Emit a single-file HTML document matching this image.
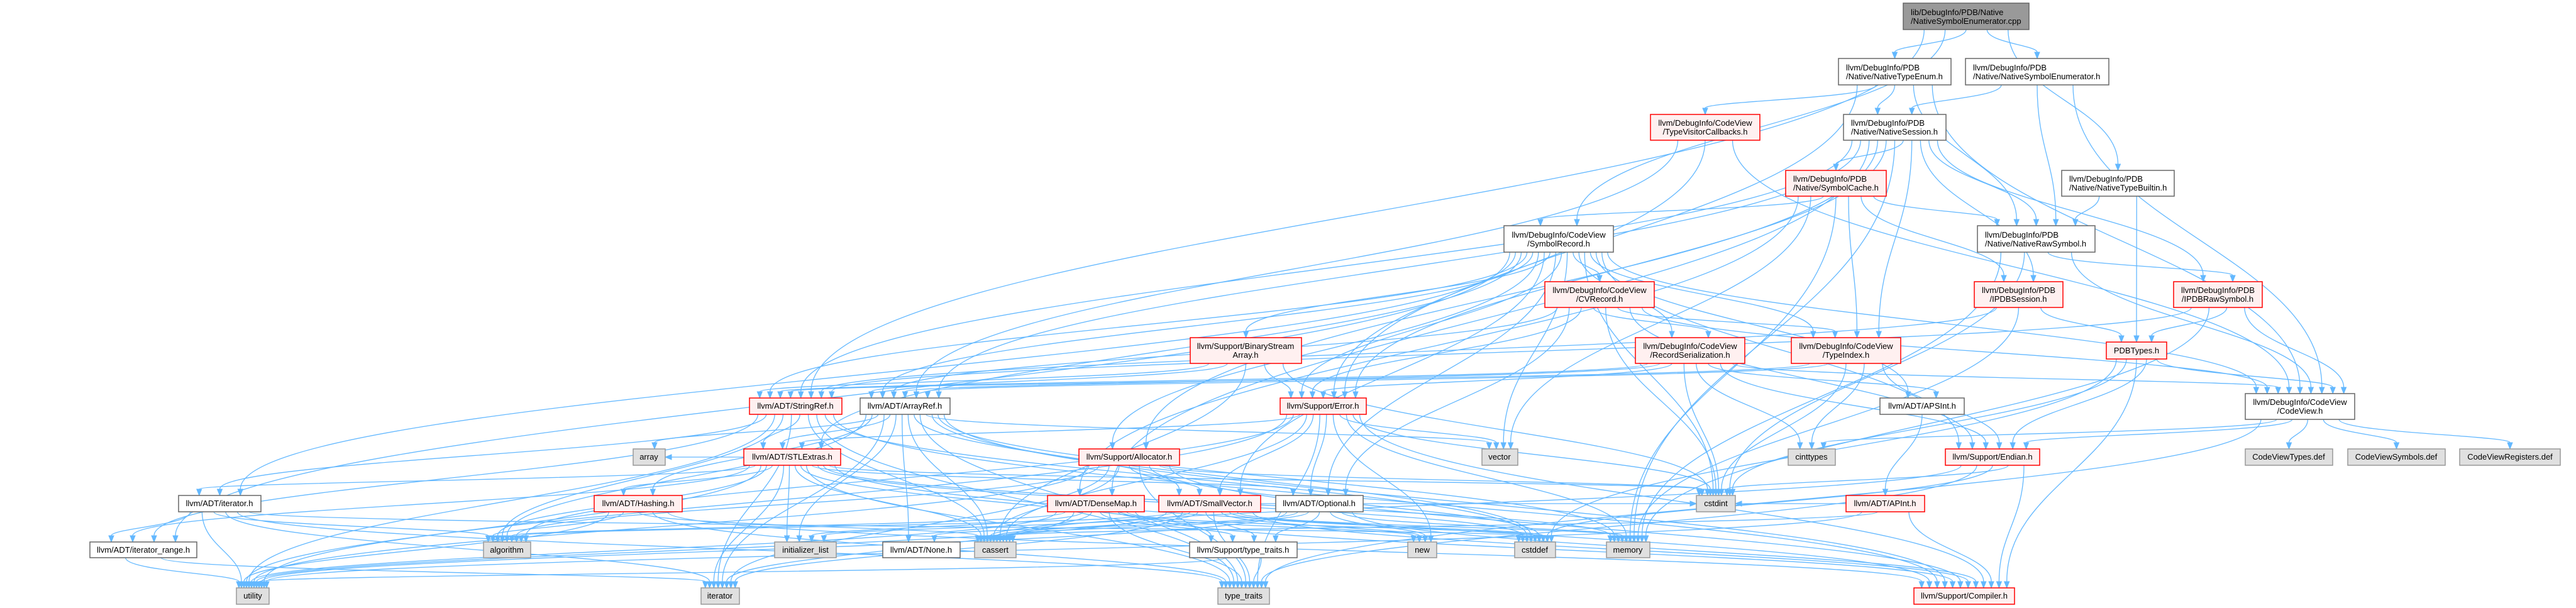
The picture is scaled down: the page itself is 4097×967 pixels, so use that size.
<!DOCTYPE html>
<html><head><meta charset="utf-8"><style>
html,body{margin:0;padding:0;background:#fff;}
svg{display:block}
text{font-family:"Liberation Sans",Arial,sans-serif;font-size:13px;fill:#000}
.w rect{fill:#fff;stroke:#666;stroke-width:1.5}
.r rect{fill:#FFF0F0;stroke:#F00;stroke-width:1.5}
.g rect{fill:#E0E0E0;stroke:#999;stroke-width:1.5}
.m rect{fill:#999;stroke:#666;stroke-width:1.5}
.e path{fill:none;stroke:#63B8FF;stroke-width:1.3}
.e polygon{fill:#63B8FF;stroke:#63B8FF}
</style></head><body>
<svg id="s" width="4097" height="967" viewBox="0 0 4097 967" xmlns="http://www.w3.org/2000/svg">
<g id="edges" class="e"></g>
<g id="nodes">
<g class="m"><rect id="r_cpp" x="3027" y="5" width="200" height="42"/><text x="3039" y="24">lib/DebugInfo/PDB/Native</text><text x="3039" y="38">/NativeSymbolEnumerator.cpp</text></g>
<g class="w"><rect id="r_nte" x="2924" y="93" width="179" height="42"/><text x="2936" y="112">llvm/DebugInfo/PDB</text><text x="2936" y="126">/Native/NativeTypeEnum.h</text></g>
<g class="w"><rect id="r_nse" x="3126" y="93" width="228" height="42"/><text x="3138" y="112">llvm/DebugInfo/PDB</text><text x="3138" y="126">/Native/NativeSymbolEnumerator.h</text></g>
<g class="r"><rect id="r_tvc" x="2625" y="182" width="174" height="41"/><text x="2712" y="200" text-anchor="middle">llvm/DebugInfo/CodeView</text><text x="2712" y="214" text-anchor="middle">/TypeVisitorCallbacks.h</text></g>
<g class="w"><rect id="r_ns" x="2932" y="182" width="163" height="41"/><text x="2944" y="200">llvm/DebugInfo/PDB</text><text x="2944" y="214">/Native/NativeSession.h</text></g>
<g class="r"><rect id="r_sc" x="2840" y="271" width="160" height="41"/><text x="2852" y="289">llvm/DebugInfo/PDB</text><text x="2852" y="303">/Native/SymbolCache.h</text></g>
<g class="w"><rect id="r_ntb" x="3279" y="271" width="179" height="41"/><text x="3291" y="289">llvm/DebugInfo/PDB</text><text x="3291" y="303">/Native/NativeTypeBuiltin.h</text></g>
<g class="w"><rect id="r_nrs" x="3145" y="359" width="187" height="42"/><text x="3157" y="378">llvm/DebugInfo/PDB</text><text x="3157" y="392">/Native/NativeRawSymbol.h</text></g>
<g class="w"><rect id="r_sr" x="2392" y="359" width="174" height="42"/><text x="2479" y="378" text-anchor="middle">llvm/DebugInfo/CodeView</text><text x="2479" y="392" text-anchor="middle">/SymbolRecord.h</text></g>
<g class="r"><rect id="r_ipdbs" x="3140" y="448" width="141" height="41"/><text x="3152" y="466">llvm/DebugInfo/PDB</text><text x="3210" y="480" text-anchor="middle">/IPDBSession.h</text></g>
<g class="r"><rect id="r_ipdbr" x="3457" y="448" width="141" height="41"/><text x="3469" y="466">llvm/DebugInfo/PDB</text><text x="3527" y="480" text-anchor="middle">/IPDBRawSymbol.h</text></g>
<g class="r"><rect id="r_cvr" x="2457" y="448" width="174" height="41"/><text x="2544" y="466" text-anchor="middle">llvm/DebugInfo/CodeView</text><text x="2544" y="480" text-anchor="middle">/CVRecord.h</text></g>
<g class="r"><rect id="r_rs" x="2601" y="537" width="174" height="41"/><text x="2688" y="555" text-anchor="middle">llvm/DebugInfo/CodeView</text><text x="2688" y="569" text-anchor="middle">/RecordSerialization.h</text></g>
<g class="r"><rect id="r_ti" x="2849" y="537" width="174" height="41"/><text x="2936" y="555" text-anchor="middle">llvm/DebugInfo/CodeView</text><text x="2936" y="569" text-anchor="middle">/TypeIndex.h</text></g>
<g class="r"><rect id="r_pdbt" x="3350" y="544" width="96" height="27"/><text x="3398" y="562" text-anchor="middle">PDBTypes.h</text></g>
<g class="r"><rect id="r_bsa" x="1893" y="537" width="177" height="41"/><text x="1981" y="555" text-anchor="middle">llvm/Support/BinaryStream</text><text x="1981" y="569" text-anchor="middle">Array.h</text></g>
<g class="r"><rect id="r_sref" x="1192" y="633" width="147" height="26"/><text x="1265" y="650" text-anchor="middle">llvm/ADT/StringRef.h</text></g>
<g class="w"><rect id="r_aref" x="1368" y="633" width="143" height="26"/><text x="1439" y="650" text-anchor="middle">llvm/ADT/ArrayRef.h</text></g>
<g class="r"><rect id="r_err" x="2036" y="633" width="137" height="26"/><text x="2104" y="650" text-anchor="middle">llvm/Support/Error.h</text></g>
<g class="w"><rect id="r_apsint" x="2990" y="633" width="134" height="26"/><text x="3057" y="650" text-anchor="middle">llvm/ADT/APSInt.h</text></g>
<g class="w"><rect id="r_cv" x="3571" y="626" width="174" height="41"/><text x="3658" y="644" text-anchor="middle">llvm/DebugInfo/CodeView</text><text x="3658" y="658" text-anchor="middle">/CodeView.h</text></g>
<g class="g"><rect id="r_array" x="1007" y="714" width="51" height="26"/><text x="1032" y="731" text-anchor="middle">array</text></g>
<g class="r"><rect id="r_stl" x="1183" y="714" width="154" height="26"/><text x="1260" y="731" text-anchor="middle">llvm/ADT/STLExtras.h</text></g>
<g class="r"><rect id="r_alloc" x="1716" y="714" width="160" height="26"/><text x="1796" y="731" text-anchor="middle">llvm/Support/Allocator.h</text></g>
<g class="g"><rect id="r_vector" x="2357" y="714" width="57" height="26"/><text x="2385" y="731" text-anchor="middle">vector</text></g>
<g class="g"><rect id="r_cinttypes" x="2844" y="714" width="75" height="26"/><text x="2881" y="731" text-anchor="middle">cinttypes</text></g>
<g class="r"><rect id="r_endian" x="3094" y="714" width="150" height="26"/><text x="3169" y="731" text-anchor="middle">llvm/Support/Endian.h</text></g>
<g class="g"><rect id="r_cvtypes" x="3571" y="714" width="139" height="26"/><text x="3640" y="731" text-anchor="middle">CodeViewTypes.def</text></g>
<g class="g"><rect id="r_cvsym" x="3734" y="714" width="155" height="26"/><text x="3811" y="731" text-anchor="middle">CodeViewSymbols.def</text></g>
<g class="g"><rect id="r_cvreg" x="3912" y="714" width="160" height="26"/><text x="3992" y="731" text-anchor="middle">CodeViewRegisters.def</text></g>
<g class="w"><rect id="r_iter" x="284" y="788" width="131" height="26"/><text x="349" y="805" text-anchor="middle">llvm/ADT/iterator.h</text></g>
<g class="r"><rect id="r_hash" x="945" y="788" width="140" height="26"/><text x="1015" y="805" text-anchor="middle">llvm/ADT/Hashing.h</text></g>
<g class="r"><rect id="r_dmap" x="1666" y="788" width="154" height="26"/><text x="1743" y="805" text-anchor="middle">llvm/ADT/DenseMap.h</text></g>
<g class="r"><rect id="r_svec" x="1843" y="788" width="162" height="26"/><text x="1924" y="805" text-anchor="middle">llvm/ADT/SmallVector.h</text></g>
<g class="w"><rect id="r_opt" x="2029" y="788" width="139" height="26"/><text x="2098" y="805" text-anchor="middle">llvm/ADT/Optional.h</text></g>
<g class="g"><rect id="r_cstdint" x="2698" y="788" width="62" height="26"/><text x="2729" y="805" text-anchor="middle">cstdint</text></g>
<g class="r"><rect id="r_apint" x="2936" y="788" width="125" height="26"/><text x="2998" y="805" text-anchor="middle">llvm/ADT/APInt.h</text></g>
<g class="w"><rect id="r_itr" x="143" y="862" width="170" height="25"/><text x="228" y="879" text-anchor="middle">llvm/ADT/iterator_range.h</text></g>
<g class="g"><rect id="r_algorithm" x="769" y="862" width="75" height="25"/><text x="806" y="879" text-anchor="middle">algorithm</text></g>
<g class="g"><rect id="r_initlist" x="1232" y="862" width="98" height="25"/><text x="1281" y="879" text-anchor="middle">initializer_list</text></g>
<g class="w"><rect id="r_none" x="1404" y="862" width="123" height="25"/><text x="1465" y="879" text-anchor="middle">llvm/ADT/None.h</text></g>
<g class="g"><rect id="r_cassert" x="1550" y="862" width="66" height="25"/><text x="1583" y="879" text-anchor="middle">cassert</text></g>
<g class="w"><rect id="r_tt" x="1892" y="862" width="171" height="25"/><text x="1977" y="879" text-anchor="middle">llvm/Support/type_traits.h</text></g>
<g class="g"><rect id="r_new" x="2239" y="862" width="46" height="25"/><text x="2262" y="879" text-anchor="middle">new</text></g>
<g class="g"><rect id="r_cstddef" x="2409" y="862" width="65" height="25"/><text x="2441" y="879" text-anchor="middle">cstddef</text></g>
<g class="g"><rect id="r_memory" x="2555" y="862" width="69" height="25"/><text x="2589" y="879" text-anchor="middle">memory</text></g>
<g class="g"><rect id="r_utility" x="376" y="935" width="52" height="26"/><text x="402" y="952" text-anchor="middle">utility</text></g>
<g class="g"><rect id="r_iterator" x="1115" y="935" width="61" height="26"/><text x="1145" y="952" text-anchor="middle">iterator</text></g>
<g class="g"><rect id="r_typetraits" x="1937" y="935" width="82" height="26"/><text x="1978" y="952" text-anchor="middle">type_traits</text></g>
<g class="r"><rect id="r_compiler" x="3044" y="935" width="160" height="26"/><text x="3124" y="952" text-anchor="middle">llvm/Support/Compiler.h</text></g>
</g>
</svg>
<script>
var E=[
["cpp","nte"],["cpp","nse"],["cpp","ntb"],["cpp","sr"],["cpp","sref"],
["nte","tvc"],["nte","ns"],["nte","nrs"],["nte","cv"],["nte","err"],
["nse","ns"],["nse","nrs"],["nse","cv"],
["ns","sc"],["ns","nrs"],["ns","ipdbs"],["ns","ipdbr"],["ns","ti"],["ns","sref"],["ns","dmap"],["ns","err"],["ns","alloc"],["ns","aref"],["ns","memory"],
["sc","sr"],["sc","nrs"],["sc","ti"],["sc","dmap"],["sc","memory"],["sc","vector"],["sc","ipdbs"],
["ntb","nrs"],["ntb","pdbt"],
["nrs","ipdbr"],["nrs","cstdint"],["nrs","memory"],["nrs","cv"],
["ipdbs","pdbt"],["ipdbs","memory"],["ipdbs","sref"],
["ipdbr","pdbt"],["ipdbr","cv"],["ipdbr","memory"],["ipdbr","sref"],
["tvc","err"],["tvc","cv"],["tvc","aref"],
["sr","cvr"],["sr","ti"],["sr","rs"],["sr","bsa"],["sr","aref"],["sr","sref"],["sr","err"],["sr","apsint"],["sr","cv"],["sr","cstdint"],["sr","vector"],["sr","opt"],["sr","iter"],["sr","itr"],["sr","endian"],["sr","svec"],["sr","alloc"],["sr","stl"],
["cvr","rs"],["cvr","ti"],["cvr","err"],["cvr","endian"],["cvr","opt"],["cvr","cstdint"],["cvr","aref"],["cvr","cv"],
["rs","cv"],["rs","aref"],["rs","sref"],["rs","err"],["rs","apsint"],["rs","endian"],["rs","cinttypes"],["rs","cstdint"],
["ti","cinttypes"],["ti","endian"],["ti","cstdint"],["ti","aref"],["ti","sref"],
["pdbt","cv"],["pdbt","cstdint"],["pdbt","cstddef"],["pdbt","endian"],["pdbt","compiler"],
["bsa","aref"],["bsa","err"],["bsa","cassert"],["bsa","cstdint"],["bsa","sref"],
["cv","cvtypes"],["cv","cvsym"],["cv","cvreg"],["cv","cinttypes"],["cv","endian"],["cv","typetraits"],
["sref","stl"],["sref","itr"],["sref","iter"],["sref","algorithm"],["sref","cassert"],["sref","cstddef"],["sref","compiler"],["sref","utility"],["sref","typetraits"],["sref","iterator"],
["aref","hash"],["aref","none"],["aref","stl"],["aref","svec"],["aref","compiler"],["aref","algorithm"],["aref","array"],["aref","cassert"],["aref","cstddef"],["aref","initlist"],["aref","iterator"],["aref","memory"],["aref","typetraits"],["aref","vector"],
["err","stl"],["err","compiler"],["err","cassert"],["err","cstdint"],["err","memory"],["err","new"],["err","typetraits"],["err","utility"],["err","vector"],["err","svec"],["err","opt"],["err","algorithm"],
["stl","hash"],["stl","iter"],["stl","itr"],["stl","algorithm"],["stl","cassert"],["stl","cstddef"],["stl","cstdint"],["stl","initlist"],["stl","iterator"],["stl","memory"],["stl","typetraits"],["stl","utility"],["stl","tt"],["stl","opt"],["stl","compiler"],["stl","array"],
["alloc","svec"],["alloc","compiler"],["alloc","algorithm"],["alloc","cassert"],["alloc","cstddef"],["alloc","cstdint"],["alloc","iterator"],["alloc","typetraits"],["alloc","utility"],
["dmap","compiler"],["dmap","tt"],["dmap","algorithm"],["dmap","cassert"],["dmap","cstddef"],["dmap","initlist"],["dmap","iterator"],["dmap","new"],["dmap","typetraits"],["dmap","utility"],
["svec","compiler"],["svec","tt"],["svec","algorithm"],["svec","cassert"],["svec","cstddef"],["svec","initlist"],["svec","iterator"],["svec","memory"],["svec","new"],["svec","typetraits"],["svec","utility"],["svec","cstdint"],
["opt","none"],["opt","tt"],["opt","compiler"],["opt","cassert"],["opt","new"],["opt","utility"],["opt","memory"],
["iter","itr"],["iter","algorithm"],["iter","cstddef"],["iter","iterator"],["iter","typetraits"],["iter","utility"],
["itr","utility"],["itr","iterator"],
["hash","algorithm"],["hash","cassert"],["hash","utility"],["hash","typetraits"],["hash","compiler"],
["tt","typetraits"],["tt","utility"],
["apsint","apint"],
["apint","compiler"],["apint","cassert"],["apint","utility"],["apint","cstdint"],
["endian","compiler"],["endian","cassert"],["endian","cstddef"],["endian","cstdint"],["endian","typetraits"]
];
function B(id){var r=document.getElementById('r_'+id);var x=+r.getAttribute('x'),y=+r.getAttribute('y'),w=+r.getAttribute('width'),h=+r.getAttribute('height');return {x1:x,y1:y,x2:x+w,y2:y+h,w:w,h:h,cx:x+w/2,cy:y+h/2};}
var out={},inn={};
E.forEach(function(e,i){(out[e[0]]=out[e[0]]||[]).push(i);(inn[e[1]]=inn[e[1]]||[]).push(i);});
for(var k in out){out[k].sort(function(a,b){return B(E[a][1]).cx-B(E[b][1]).cx;});}
for(var k in inn){inn[k].sort(function(a,b){return B(E[a][0]).cx-B(E[b][0]).cx;});}
var g=document.getElementById('edges'),NS="http://www.w3.org/2000/svg",html="";
E.forEach(function(e,i){
 var s=B(e[0]),t=B(e[1]);var sx,sy,tx,ty,c1x,c1y,c2x,c2y;
 if(t.y1>s.y2+5){
  var o=out[e[0]],oi=o.indexOf(i),n=o.length;
  var q=inn[e[1]],qi=q.indexOf(i),m=q.length;
  sx=s.x1+s.w*(oi+1)/(n+1);sy=s.y2;
  tx=t.x1+t.w*(qi+1)/(m+1);ty=t.y1;
  var dy=ty-sy;c1x=sx;c1y=sy+dy*0.45;c2x=tx;c2y=ty-dy*0.45;
 }else{
  if(t.cx<s.cx){sx=s.x1;tx=t.x2;}else{sx=s.x2;tx=t.x1;}
  sy=s.cy;ty=t.cy;var dx=tx-sx;c1x=sx+dx*0.4;c1y=sy;c2x=tx-dx*0.4;c2y=ty;
 }
 var vx=tx-c2x,vy=ty-c2y,L=Math.sqrt(vx*vx+vy*vy)||1;vx/=L;vy/=L;
 var ex=tx-vx*10,ey=ty-vy*10;
 html+='<path d="M'+sx.toFixed(1)+' '+sy.toFixed(1)+' C'+c1x.toFixed(1)+' '+c1y.toFixed(1)+' '+c2x.toFixed(1)+' '+c2y.toFixed(1)+' '+ex.toFixed(1)+' '+ey.toFixed(1)+'"/>';
 var px=-vy*4,py=vx*4;
 html+='<polygon points="'+tx+','+ty+' '+(ex+px).toFixed(1)+','+(ey+py).toFixed(1)+' '+(ex-px).toFixed(1)+','+(ey-py).toFixed(1)+'"/>';
});
g.innerHTML=html;
</script>
</body></html>
